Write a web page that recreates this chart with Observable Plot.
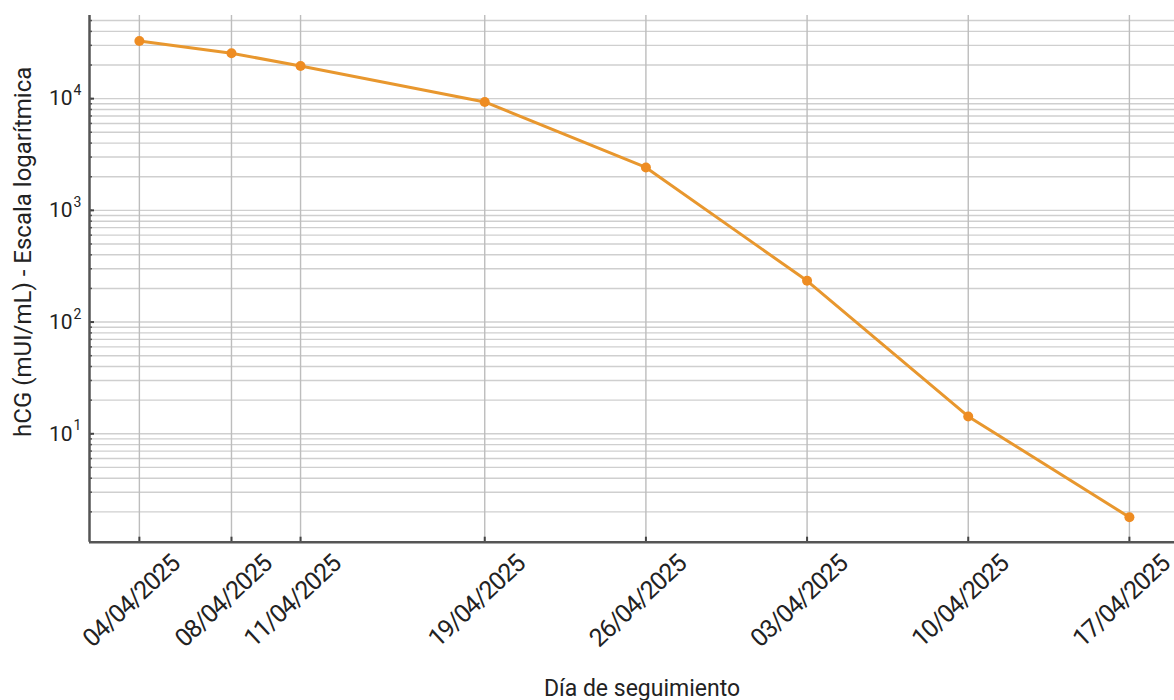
<!DOCTYPE html>
<html><head><meta charset="utf-8">
<script src="https://cdn.jsdelivr.net/npm/d3@7"></script>
<script src="https://cdn.jsdelivr.net/npm/@observablehq/plot@0.6"></script>
<style>body{margin:0;background:#fff;} svg{overflow:visible} .xlab text{letter-spacing:-1.2px}</style>
</head><body><div id="chart"></div>
<script>
const fechas = ["2025-04-04","2025-04-08","2025-04-11","2025-04-19","2025-04-26","2025-05-03","2025-05-10","2025-05-17"];
const etiquetas = ["04/04/2025","08/04/2025","11/04/2025","19/04/2025","26/04/2025","03/04/2025","10/04/2025","17/04/2025"];
const hcg = [32800, 25500, 19600, 9340, 2420, 234, 14.3, 1.79];
const yTicks = [10, 100, 1000, 10000];
const yExponentes = ["1", "2", "3", "4"];
const xDomain = [new Date("2025-04-01T20:00:00Z"), new Date("2025-05-18T23:00:00Z")];
const yDomain = [1.07, 55500];

const dates = fechas.map(d => new Date(d + "T00:00:00Z"));
const data = dates.map((d, i) => ({fecha: d, valor: hcg[i], etiqueta: etiquetas[i]}));
const yMinor = d3.scaleLog().domain(yDomain).ticks();
const yLab = yTicks.map((v, i) => ({v, e: yExponentes[i]}));
const font = "Roboto, 'Liberation Sans', sans-serif";

const chart = Plot.plot({
  width: 1174, height: 700,
  marginLeft: 89, marginRight: 0, marginTop: 15, marginBottom: 158.3,
  style: {fontFamily: font, background: "#fff"},
  x: {type: "utc", domain: xDomain, axis: null},
  y: {type: "log", domain: yDomain, axis: null},
  marks: [
    Plot.gridY(yMinor, {stroke: "#cfcfcf", strokeOpacity: 1, strokeWidth: 1.4}),
    Plot.ruleX(dates, {stroke: "#bdbdbd", strokeWidth: 1.4}),
    Plot.axisY(yMinor, {tickSize: -3, tickFormat: () => "", stroke: "#555", strokeWidth: 1.5, label: null}),
    Plot.axisY(yTicks, {tickSize: -5, tickFormat: () => "", stroke: "#444", strokeWidth: 2, label: null}),
    Plot.axisX(dates, {tickSize: -5, tickFormat: () => "", stroke: "#444", strokeWidth: 2, label: null}),
    Plot.ruleX([xDomain[0]], {stroke: "#555", strokeWidth: 2.5}),
    Plot.ruleY([yDomain[0]], {stroke: "#555", strokeWidth: 2.5}),
    Plot.line(data, {x: "fecha", y: "valor", stroke: "#E8972E", strokeWidth: 3}),
    Plot.dot(data, {x: "fecha", y: "valor", r: 5, fill: "#EE8C22"}),
    Plot.text(data, {x: "fecha", frameAnchor: "bottom", text: "etiqueta", rotate: -43, textAnchor: "middle", lineAnchor: "middle", dx: -8, dy: 59, fontSize: 25, fill: "#222", className: "xlab"}),
    Plot.text(yLab, {y: "v", frameAnchor: "left", text: () => "10", textAnchor: "end", lineAnchor: "middle", dx: -17, fontSize: 21, fill: "#222"}),
    Plot.text(yLab, {y: "v", frameAnchor: "left", text: "e", textAnchor: "start", lineAnchor: "middle", dx: -16, dy: -8, fontSize: 14, fill: "#222"}),
    Plot.text(["hCG (mUI/mL) - Escala logarítmica"], {frameAnchor: "left", text: d => d, rotate: -90, textAnchor: "middle", lineAnchor: "middle", dx: -66, dy: -27, fontSize: 24, fill: "#222"}),
    Plot.text(["Día de seguimiento"], {frameAnchor: "bottom", text: d => d, textAnchor: "middle", lineAnchor: "middle", dx: 10, dy: 146, fontSize: 23, fill: "#222"})
  ]
});
document.getElementById("chart").appendChild(chart);
</script>
</body></html>
